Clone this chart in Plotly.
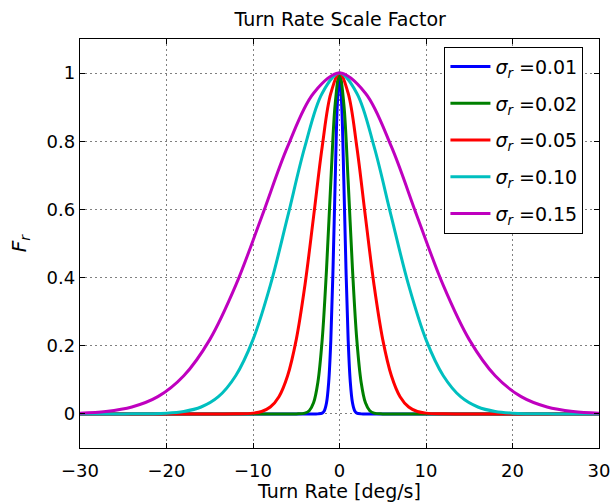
import plotly.graph_objects as go

# (Turn rate in deg/s, scale factor F_r)
x_s001 = [-30, -10, -5, -3, -2.5, -2.0, -1.75, -1.5, -1.25, -1.0, -0.75, -0.5, -0.25, 0,
          0.25, 0.5, 0.75, 1.0, 1.25, 1.5, 1.75, 2.0, 2.5, 3, 5, 10, 30]
y_s001 = [0, 0, 0, 0, 0.0001, 0.0023, 0.0094, 0.0325, 0.093, 0.218, 0.425, 0.683, 0.909, 1.0,
          0.909, 0.683, 0.425, 0.218, 0.093, 0.0325, 0.0094, 0.0023, 0.0001, 0, 0, 0, 0]

x_s002 = [-30, -15, -8, -6, -5, -4, -3.5, -3, -2.5, -2, -1.5, -1, -0.5, 0,
          0.5, 1, 1.5, 2, 2.5, 3, 3.5, 4, 5, 6, 8, 15, 30]
y_s002 = [0, 0, 0, 0, 0.0001, 0.0023, 0.0094, 0.0325, 0.093, 0.218, 0.425, 0.683, 0.909, 1.0,
          0.909, 0.683, 0.425, 0.218, 0.093, 0.0325, 0.0094, 0.0023, 0.0001, 0, 0, 0, 0]

x_s005 = [-30, -20, -15, -12, -10, -9, -8, -7, -6, -5, -4, -3, -2, -1, 0,
          1, 2, 3, 4, 5, 6, 7, 8, 9, 10, 12, 15, 20, 30]
y_s005 = [0, 0, 0, 0.0002, 0.0023, 0.0072, 0.0203, 0.0506, 0.112, 0.218, 0.377, 0.578, 0.784, 0.941, 1.0,
          0.941, 0.784, 0.578, 0.377, 0.218, 0.112, 0.0506, 0.0203, 0.0072, 0.0023, 0.0002, 0, 0, 0]

x_s010 = [-30, -25, -20, -18, -16, -14, -12, -10, -8, -6, -4, -2, 0,
          2, 4, 6, 8, 10, 12, 14, 16, 18, 20, 25, 30]
y_s010 = [0, 0.0001, 0.0023, 0.0072, 0.0203, 0.0506, 0.112, 0.218, 0.377, 0.578, 0.784, 0.941, 1.0,
          0.941, 0.784, 0.578, 0.377, 0.218, 0.112, 0.0506, 0.0203, 0.0072, 0.0023, 0.0001, 0]

x_s015 = [-30, -27, -24, -21, -18, -15, -12, -9, -6, -3, 0,
          3, 6, 9, 12, 15, 18, 21, 24, 27, 30]
y_s015 = [0.0023, 0.0072, 0.0203, 0.0506, 0.112, 0.218, 0.377, 0.578, 0.784, 0.941, 1.0,
          0.941, 0.784, 0.578, 0.377, 0.218, 0.112, 0.0506, 0.0203, 0.0072, 0.0023]

series_names = ["0.01", "0.02", "0.05", "0.10", "0.15"]
series_x = [x_s001, x_s002, x_s005, x_s010, x_s015]
series_y = [y_s001, y_s002, y_s005, y_s010, y_s015]
colors = ["#0000ff", "#008000", "#ff0000", "#00bfbf", "#bf00bf"]

x_ticks = [-30, -20, -10, 0, 10, 20, 30]
y_ticks = [0, 0.2, 0.4, 0.6, 0.8, 1.0]
y_tick_labels = ["0", "0.2", "0.4", "0.6", "0.8", "1"]

FONT = "DejaVu Sans"

fig = go.Figure()
for i, (name, xs, ys, c) in enumerate(zip(series_names, series_x, series_y, colors)):
    fig.add_trace(go.Scatter(
        x=xs, y=ys, mode="lines",
        line=dict(color=c, width=3, shape="spline", smoothing=1.0),
        name="<i>σ</i><sub><i>r</i></sub> =" + name,
        legendgroup="g%d" % i,
    ))

axis_common = dict(
    showline=True, linecolor="black", linewidth=1.3, mirror="ticks",
    ticks="inside", ticklen=5, tickcolor="black", tickwidth=1,
    showgrid=True, gridcolor="#808080", griddash="1.5px,3.5px", gridwidth=1,
    zeroline=False, automargin=False,
    tickfont=dict(family=FONT, size=18, color="black"),
)

fig.update_xaxes(range=[-30, 30], tickvals=x_ticks, ticklabelstandoff=6,
                 title=dict(text="Turn Rate [deg/s]", font=dict(family=FONT, size=19, color="black"), standoff=4),
                 **axis_common)
fig.update_yaxes(range=[-0.1, 1.1], tickvals=y_ticks, ticktext=y_tick_labels, ticklabelstandoff=0,
                 title=dict(text="<i>F</i><sub><i>r</i></sub>", font=dict(family=FONT, size=20, color="black"), standoff=14),
                 **axis_common)

fig.update_layout(
    width=613, height=502,
    margin=dict(l=80, r=14, t=39, b=54, autoexpand=False),
    paper_bgcolor="white", plot_bgcolor="white",
    font=dict(family=FONT, color="black"),
    title=dict(text="Turn Rate Scale Factor", x=0.555, xanchor="center", y=0.962, yanchor="middle",
               font=dict(family=FONT, size=19, color="black")),
    legend=dict(x=0.970, y=0.981, xanchor="right", yanchor="top",
                bgcolor="white", bordercolor="black", borderwidth=1,
                tracegroupgap=9, itemwidth=40,
                font=dict(family=FONT, size=19, color="black")),
    showlegend=True,
)

fig.write_html("out.html")
